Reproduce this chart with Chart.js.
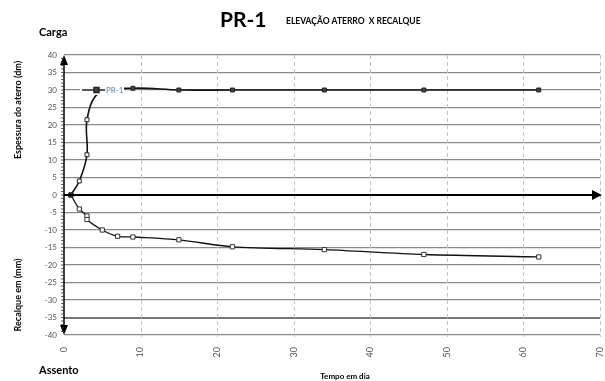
<!DOCTYPE html>
<html>
<head>
<meta charset="utf-8">
<script src="https://cdn.jsdelivr.net/npm/chart.js@4.4.1/dist/chart.umd.min.js"></script>
<style>
  html, body { margin: 0; padding: 0; background: #fff; }
  #wrap { width: 605px; height: 381px; position: relative; }
</style>
</head>
<body>
<div id="wrap"><canvas id="pr1-chart" width="605" height="381"></canvas></div>
<script>
// days and fill thickness (dm)
var fillDays   = [0.9, 2, 3, 3, 4.5, 9, 15, 22, 34, 47, 62];
var fillHeight = [0, 4, 11.5, 21.5, 29, 30.5, 30, 30, 30, 30, 30];
// days and settlement (mm)
var settleDays  = [0.9, 2, 3, 3, 5, 7, 9, 15, 22, 34, 47, 62];
var settleValue = [0, -4, -6, -7, -10, -11.8, -12, -12.8, -14.8, -15.6, -17, -17.7];

var xTicks = [0, 10, 20, 30, 40, 50, 60, 70];
var yTicks = [40, 35, 30, 25, 20, 15, 10, 5, 0, -5, -10, -15, -20, -25, -30, -35, -40];

function toPoints(xs, ys) {
  return xs.map(function (x, i) { return { x: x, y: ys[i] }; });
}

var FONT = 'Lato, "Open Sans", sans-serif';

// dashed vertical grid lines
var dashedGrid = {
  id: 'dashedGrid',
  beforeDatasetsDraw: function (chart) {
    var ctx = chart.ctx, xs = chart.scales.x, area = chart.chartArea;
    ctx.save();
    ctx.strokeStyle = '#c4c4c4';
    ctx.lineWidth = 1;
    ctx.setLineDash([4, 3]);
    xTicks.forEach(function (v) {
      if (v === 0) return;
      var px = Math.round(xs.getPixelForValue(v)) + 0.5;
      ctx.beginPath(); ctx.moveTo(px, area.top); ctx.lineTo(px, area.bottom + 2); ctx.stroke();
    });
    ctx.restore();
  }
};

var decorations = {
  id: 'decorations',
  afterDraw: function (chart) {
    var ctx = chart.ctx;
    var xs = chart.scales.x, ys = chart.scales.y;
    var x0 = xs.getPixelForValue(0);
    var y0 = ys.getPixelForValue(0);
    var top = ys.getPixelForValue(40), bot = ys.getPixelForValue(-40);
    var right = xs.getPixelForValue(70);
    ctx.save();
    ctx.fillStyle = '#000';
    ctx.strokeStyle = '#000';

    // horizontal axis at 0
    ctx.lineWidth = 2;
    ctx.beginPath(); ctx.moveTo(x0, y0); ctx.lineTo(right - 6, y0); ctx.stroke();
    ctx.beginPath(); ctx.moveTo(right + 2, y0); ctx.lineTo(right - 8, y0 - 5); ctx.lineTo(right - 8, y0 + 5); ctx.closePath(); ctx.fill();

    // vertical axis
    ctx.lineWidth = 1.5;
    ctx.beginPath(); ctx.moveTo(x0, top + 8); ctx.lineTo(x0, bot - 8); ctx.stroke();
    ctx.beginPath(); ctx.moveTo(x0, top); ctx.lineTo(x0 - 4, top + 10); ctx.lineTo(x0 + 4, top + 10); ctx.closePath(); ctx.fill();
    ctx.beginPath(); ctx.moveTo(x0, bot); ctx.lineTo(x0 - 4, bot - 10); ctx.lineTo(x0 + 4, bot - 10); ctx.closePath(); ctx.fill();

    // minor ticks
    ctx.lineWidth = 0.8;
    ctx.strokeStyle = '#333';
    for (var v = -39; v <= 39; v++) {
      var py = ys.getPixelForValue(v);
      ctx.beginPath(); ctx.moveTo(x0 - 3, py); ctx.lineTo(x0, py); ctx.stroke();
    }

    // legend entry
    var ly = ys.getPixelForValue(30);
    ctx.fillStyle = '#fff';
    ctx.fillRect(x0 + 16, ly - 5, 44, 10);
    ctx.strokeStyle = '#222';
    ctx.lineWidth = 1.5;
    ctx.beginPath(); ctx.moveTo(x0 + 18, ly); ctx.lineTo(x0 + 41, ly); ctx.stroke();
    ctx.fillStyle = '#444';
    ctx.fillRect(x0 + 30, ly - 2.5, 5, 5);
    ctx.strokeRect(x0 + 30, ly - 2.5, 5, 5);
    ctx.fillStyle = '#5b82b0';
    ctx.font = '8px ' + FONT;
    ctx.textAlign = 'left'; ctx.textBaseline = 'middle';
    ctx.fillText('PR-1', x0 + 42, ly);

    // titles
    ctx.fillStyle = '#000';
    ctx.textBaseline = 'alphabetic';
    ctx.font = 'bold 21px ' + FONT;
    ctx.textAlign = 'left';
    ctx.fillText('PR-1', 220, 27);
    ctx.font = 'bold 8.5px ' + FONT;
    ctx.fillText('ELEVAÇÃO ATERRO  X RECALQUE', 286, 24);

    ctx.font = 'bold 11px ' + FONT;
    ctx.fillText('Carga', 39, 36);
    ctx.fillText('Assento', 39, 374);

    ctx.font = 'bold 8px ' + FONT;
    ctx.textAlign = 'center';
    ctx.fillText('Tempo em dia', 345, 379);

    ctx.font = 'bold 9px ' + FONT;
    ctx.textBaseline = 'middle';
    ctx.save(); ctx.translate(18, 110); ctx.rotate(-Math.PI / 2);
    ctx.fillText('Espessura do aterro (dm)', 0, 0); ctx.restore();
    ctx.save(); ctx.translate(18, 295); ctx.rotate(-Math.PI / 2);
    ctx.fillText('Recalque em (mm)', 0, 0); ctx.restore();

    ctx.restore();
  }
};

new Chart(document.getElementById('pr1-chart'), {
  type: 'scatter',
  data: {
    datasets: [{
      label: 'Espessura',
      data: toPoints(fillDays, fillHeight),
      showLine: true,
      tension: 0.35,
      borderColor: '#111',
      borderWidth: 1.6,
      pointStyle: 'rect',
      pointRadius: fillDays.map(function (d, i) { return i === 4 ? 0 : 2.8; }),
      pointBackgroundColor: fillDays.map(function (d, i) { return (i === 0 || i > 4) ? '#444' : '#fff'; }),
      pointBorderColor: '#222',
      pointBorderWidth: 1
    }, {
      label: 'Recalque',
      data: toPoints(settleDays, settleValue),
      showLine: true,
      tension: 0.3,
      borderColor: '#111',
      borderWidth: 1.3,
      pointStyle: 'rect',
      pointRadius: 3,
      pointBackgroundColor: settleDays.map(function (d, i) { return i === 0 ? '#222' : '#fff'; }),
      pointBorderColor: '#333',
      pointBorderWidth: 1
    }]
  },
  options: {
    responsive: false,
    animation: false,
    layout: { padding: { top: 55, right: 0, left: 0, bottom: 0 } },
    plugins: {
      legend: { display: false },
      tooltip: { enabled: false }
    },
    scales: {
      x: {
        type: 'linear',
        min: 0, max: 70,
        afterFit: function (s) { s.height = 46; s.paddingRight = 0; s.paddingLeft = 0; },
        afterBuildTicks: function (s) { s.ticks = xTicks.map(function (v) { return { value: v }; }); },
        ticks: {
          minRotation: 90, maxRotation: 90,
          color: '#555',
          font: { family: FONT, size: 9 },
          padding: 4
        },
        grid: { display: false },
        border: { display: false }
      },
      y: {
        min: -40, max: 40,
        afterFit: function (s) { s.width = 64; s.paddingTop = 0; s.paddingBottom = 0; },
        afterBuildTicks: function (s) { s.ticks = yTicks.map(function (v) { return { value: v }; }); },
        ticks: {
          color: '#555',
          font: { family: FONT, size: 8 },
          padding: 7
        },
        grid: {
          color: function (c) {
            var v = c.tick && c.tick.value;
            if (v === 0) return 'rgba(0,0,0,0)';
            if (v === -35) return '#777';
            return '#8a8a8a';
          },
          lineWidth: function (c) { return (c.tick && c.tick.value === -35) ? 2 : 1.3; },
          drawTicks: false
        },
        border: { display: false }
      }
    }
  },
  plugins: [dashedGrid, decorations]
});
</script>
</body>
</html>
